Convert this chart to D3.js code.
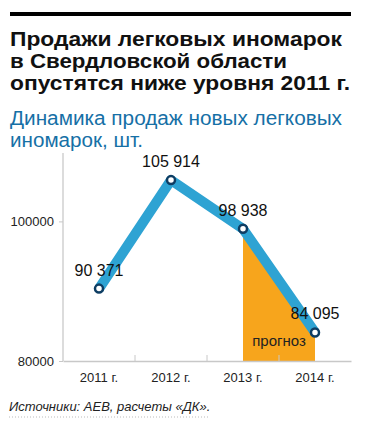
<!DOCTYPE html>
<html>
<head>
<meta charset="utf-8">
<script src="https://cdn.jsdelivr.net/npm/d3@7"></script>
<style>
	body { margin: 0; background: #fff; }
	text { font-family: "Liberation Sans", Arial, sans-serif; }
</style>
</head>
<body>
<div id="chart"></div>
<script>
// chart data
var years = ["2011 г.", "2012 г.", "2013 г.", "2014 г."];
var sales = [90371, 105914, 98938, 84095];
var salesLabels = ["90 371", "105 914", "98 938", "84 095"];
var yTicks = [80000, 100000];
var forecastFrom = "2013 г.";

// colours
var lineColor = "#2ea3d3",
	markerColor = "#0e3d63",
	forecastColor = "#f7a51c",
	titleBlue = "#1670a6";

var margin = {left: 63, right: 15, top: 153, bottom: 61};
var width = 366 - margin.left - margin.right,
	height = 422 - margin.top - margin.bottom;

var svg = d3.select("#chart").append("svg")
	.attr("width", 366)
	.attr("height", 422);

// top rule
svg.append("rect")
	.attr("x", 10).attr("y", 12)
	.attr("width", 341).attr("height", 4)
	.attr("fill", "#000");

// title (widths stretched to match the original condensed face)
var titleLines = ["Продажи легковых иномарок", "в Свердловской области", "опустятся ниже уровня 2011 г."];
var titleWidths = [332, 277, 340];
titleLines.forEach(function(t, i){
	svg.append("text")
		.attr("x", 10)
		.attr("y", 45.5 + i * 22)
		.attr("font-size", "21px")
		.attr("font-weight", "bold")
		.attr("fill", "#111")
		.attr("textLength", titleWidths[i])
		.attr("lengthAdjust", "spacingAndGlyphs")
		.text(t);
});

// subtitle
var subLines = ["Динамика продаж новых легковых", "иномарок, шт."];
var subWidths = [332, 133];
subLines.forEach(function(t, i){
	svg.append("text")
		.attr("x", 10)
		.attr("y", 125 + i * 22)
		.attr("font-size", "20px")
		.attr("fill", titleBlue)
		.attr("textLength", subWidths[i])
		.attr("lengthAdjust", "spacingAndGlyphs")
		.text(t);
});

var canvas = svg.append("g")
	.attr("transform", "translate(" + margin.left + "," + margin.top + ")");

var x = d3.scaleBand()
	.domain(years)
	.range([0, width]);

var y = d3.scaleLinear()
	.domain([80000, 109800])
	.range([height, 0]);

var data = years.map(function(yr, i){
	return {year: yr, value: sales[i], label: salesLabels[i]};
});

var cx = function(d){ return x(d.year) + x.bandwidth() / 2; };

// forecast area
var fIdx = years.indexOf(forecastFrom);
var forecast = data.slice(fIdx);
var area = d3.area()
	.x(cx)
	.y0(height)
	.y1(function(d){ return y(d.value); });
canvas.append("path")
	.datum(forecast)
	.attr("d", area)
	.attr("fill", forecastColor);

canvas.append("text")
	.attr("x", x(years[years.length - 1]))
	.attr("y", height - 15)
	.attr("text-anchor", "middle")
	.attr("font-size", "15px")
	.attr("fill", "#222")
	.text("прогноз");

// y axis line
canvas.append("line")
	.attr("x1", 0).attr("x2", 0)
	.attr("y1", 0).attr("y2", height)
	.attr("stroke", "#d0d0d0")
	.attr("stroke-width", 1.5);

// x axis
var xAxisCall = d3.axisBottom(x).tickSize(0).tickPadding(12);
var xAxis = canvas.append("g")
	.attr("class", "x-axis")
	.attr("transform", "translate(0," + height + ")")
	.call(xAxisCall);
xAxis.select(".domain").attr("stroke", "#c8c8c8").attr("stroke-width", 1.5);
xAxis.selectAll("text")
	.attr("font-size", "13px")
	.attr("fill", "#222")
	.style("font-family", "Liberation Sans, Arial, sans-serif");

// x separators between bands
canvas.selectAll(".sep")
	.data(years.slice(1))
	.enter().append("line")
	.attr("class", "sep")
	.attr("x1", function(d){ return x(d); })
	.attr("x2", function(d){ return x(d); })
	.attr("y1", height - 6)
	.attr("y2", height)
	.attr("stroke", "#c8c8c8");

// y ticks
var yAxisCall = d3.axisLeft(y).tickValues(yTicks).tickSize(4).tickPadding(5).tickFormat(d3.format("d"));
var yAxis = canvas.append("g")
	.attr("class", "y-axis")
	.call(yAxisCall);
yAxis.select(".domain").remove();
yAxis.selectAll("line").attr("stroke", "#c8c8c8");
yAxis.selectAll("text")
	.attr("font-size", "13px")
	.attr("fill", "#222")
	.style("font-family", "Liberation Sans, Arial, sans-serif");

// line
var line = d3.line()
	.x(cx)
	.y(function(d){ return y(d.value); });
canvas.append("path")
	.datum(data)
	.attr("d", line)
	.attr("fill", "none")
	.attr("stroke", lineColor)
	.attr("stroke-width", 10)
	.attr("stroke-linejoin", "round");

// markers
canvas.selectAll("circle")
	.data(data)
	.enter().append("circle")
	.attr("cx", cx)
	.attr("cy", function(d){ return y(d.value); })
	.attr("r", 4)
	.attr("fill", "#fff")
	.attr("stroke", markerColor)
	.attr("stroke-width", 2.5);

// value labels
canvas.selectAll(".val")
	.data(data)
	.enter().append("text")
	.attr("class", "val")
	.attr("x", cx)
	.attr("y", function(d){ return y(d.value) - 13; })
	.attr("text-anchor", "middle")
	.attr("font-size", "16px")
	.attr("fill", "#111")
	.text(function(d){ return d.label; });

// source
svg.append("text")
	.attr("x", 9)
	.attr("y", 411)
	.attr("font-size", "13px")
	.attr("font-style", "italic")
	.attr("fill", "#222")
	.text("Источники: АЕВ, расчеты «ДК».");

svg.append("line")
	.attr("x1", 9).attr("x2", 210)
	.attr("y1", 417).attr("y2", 417)
	.attr("stroke", "#bbb")
	.attr("stroke-dasharray", "1,2");
</script>
</body>
</html>
